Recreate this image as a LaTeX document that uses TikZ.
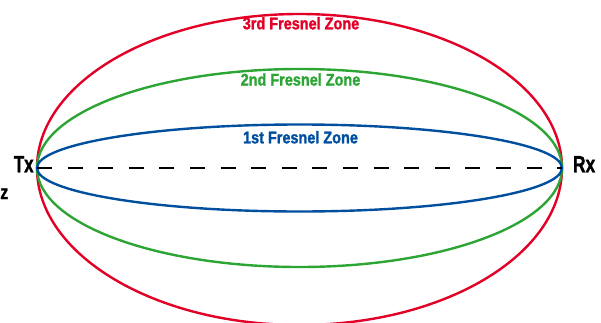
\documentclass[tikz,border=0pt]{standalone}
\usepackage{fontspec}
\usepackage{graphicx}
\setmainfont{Liberation Sans}[BoldFont={Liberation Sans Bold}]
\newfontfamily\labfont{Liberation Sans Bold}[FakeBold=1.6]
\definecolor{zred}{RGB}{226,0,38}
\definecolor{zgreen}{RGB}{44,165,53}
\definecolor{zblue}{RGB}{0,78,158}
\begin{document}
\begin{tikzpicture}[x=1pt,y=1pt,
  zone/.style={line width=2.4pt},
  zlabel/.style={inner sep=0pt,anchor=base,font=\fontsize{16.8}{18}\selectfont\labfont},
  endlabel/.style={inner sep=0pt,font=\fontsize{23.5}{26}\selectfont\labfont}]
\useasboundingbox (0,0) rectangle (601,322);
\clip (0,0) rectangle (601,322);
\coordinate (Tx) at (37,154);
\coordinate (Rx) at (562,154);
% zones
\draw[zone,zred] (Tx) arc[start angle=180,end angle=0,x radius=262.5pt,y radius=154pt]
   arc[start angle=360,end angle=180,x radius=262.5pt,y radius=157pt];
\draw[zone,zgreen] (Tx) arc[start angle=180,end angle=-180,x radius=262.5pt,y radius=99pt];
\draw[zone,zblue] (Tx) arc[start angle=180,end angle=-180,x radius=262.5pt,y radius=43.5pt];
% line of sight
\draw[line width=2.4pt,dash pattern=on 15pt off 15.6pt] (Tx) -- (Rx);
% labels
\node[zlabel,text=zred] (l3) at (301,292.7) {\scalebox{0.86}[1]{3rd Fresnel Zone}};
\node[zlabel,text=zgreen] (l2) at (300.5,236.5) {\scalebox{0.86}[1]{2nd Fresnel Zone}};
\node[zlabel,text=zblue] (l1) at (300.5,178.7) {\scalebox{0.86}[1]{1st Fresnel Zone}};
\node[endlabel,anchor=base east] (txl) at (33.8,149.7) {\scalebox{0.72}[1]{Tx}};
\node[endlabel,anchor=base west] (rxl) at (572.8,149.7) {\scalebox{0.74}[1]{Rx}};
\node[inner sep=0pt,anchor=base east,font=\fontsize{20}{22}\selectfont\labfont] (zz) at (8.5,123) {\scalebox{0.8}[1]{z}};
\end{tikzpicture}
\end{document}
